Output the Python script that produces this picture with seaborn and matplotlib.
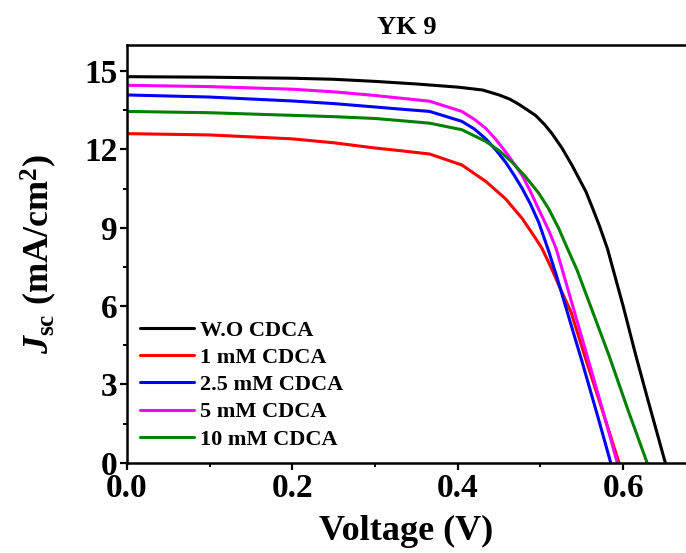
import numpy as np
import pandas as pd
import matplotlib
matplotlib.use("Agg")
import matplotlib.pyplot as plt
import seaborn as sns
from matplotlib.ticker import MultipleLocator

# ---- data ----
labels = ["W.O CDCA", "1 mM CDCA", "2.5 mM CDCA", "5 mM CDCA", "10 mM CDCA"]
colors = ["#000000", "#ff0000", "#0000ff", "#ff00ff", "#008000"]

v_wo = [0, 0.1, 0.2, 0.25, 0.3, 0.35, 0.4, 0.43, 0.45, 0.463, 0.474, 0.494, 0.505, 0.514, 0.526, 0.538, 0.555, 0.563, 0.571, 0.581, 0.6, 0.615, 0.63, 0.651]
j_wo = [14.78, 14.76, 14.72, 14.68, 14.6, 14.5, 14.38, 14.27, 14.08, 13.92, 13.72, 13.3, 12.95, 12.6, 12.05, 11.4, 10.38, 9.75, 9.1, 8.2, 6.0, 4.15, 2.4, 0]

v_1 = [0, 0.1, 0.2, 0.25, 0.3, 0.33, 0.366, 0.405, 0.434, 0.458, 0.478, 0.494, 0.502, 0.514, 0.525, 0.537, 0.555, 0.575, 0.595]
j_1 = [12.6, 12.55, 12.4, 12.25, 12.05, 11.95, 11.82, 11.4, 10.77, 10.1, 9.35, 8.6, 8.2, 7.4, 6.6, 5.77, 3.95, 2.0, 0]

v_25 = [0, 0.1, 0.2, 0.25, 0.3, 0.33, 0.366, 0.405, 0.42, 0.434, 0.446, 0.458, 0.468, 0.478, 0.488, 0.498, 0.51, 0.52, 0.535, 0.551, 0.57, 0.585]
j_25 = [14.08, 14.0, 13.85, 13.75, 13.62, 13.54, 13.45, 13.07, 12.78, 12.4, 11.98, 11.5, 11.02, 10.5, 9.9, 9.2, 8.1, 7.1, 5.5, 3.8, 1.7, 0]

v_5 = [0, 0.1, 0.2, 0.25, 0.3, 0.33, 0.366, 0.405, 0.42, 0.434, 0.446, 0.458, 0.468, 0.478, 0.488, 0.498, 0.51, 0.519, 0.535, 0.555, 0.575, 0.593]
j_5 = [14.45, 14.4, 14.3, 14.2, 14.06, 13.96, 13.84, 13.45, 13.15, 12.8, 12.38, 11.9, 11.45, 11.0, 10.38, 9.7, 8.9, 8.2, 6.45, 4.25, 2.05, 0]

v_10 = [0, 0.1, 0.2, 0.25, 0.3, 0.33, 0.366, 0.405, 0.434, 0.45, 0.466, 0.482, 0.498, 0.51, 0.522, 0.532, 0.544, 0.56, 0.583, 0.605, 0.629]
j_10 = [13.45, 13.4, 13.3, 13.25, 13.18, 13.1, 13.0, 12.75, 12.3, 11.95, 11.5, 10.95, 10.32, 9.72, 8.98, 8.25, 7.4, 6.05, 4.1, 2.1, 0]

x_ticks = [0.0, 0.2, 0.4, 0.6]
y_ticks = [0, 3, 6, 9, 12, 15]

series_v = [v_wo, v_1, v_25, v_5, v_10]
series_j = [j_wo, j_1, j_25, j_5, j_10]

frames = []
for lab, v, j in zip(labels, series_v, series_j):
    frames.append(pd.DataFrame({"V": v, "J": j, "sample": lab}))
df = pd.concat(frames, ignore_index=True)

# ---- style ----
sns.set_theme(style="ticks")
plt.rcParams["font.family"] = ["Liberation Serif", "DejaVu Serif"]
plt.rcParams["font.weight"] = "bold"
plt.rcParams["text.color"] = "black"
plt.rcParams["axes.labelcolor"] = "black"
plt.rcParams["xtick.color"] = "black"
plt.rcParams["ytick.color"] = "black"
plt.rcParams["mathtext.fontset"] = "custom"
plt.rcParams["mathtext.rm"] = "Liberation Serif:bold"
plt.rcParams["mathtext.bf"] = "Liberation Serif:bold"
plt.rcParams["mathtext.it"] = "Liberation Serif:italic:bold"

fig = plt.figure(figsize=(6.86, 5.53), dpi=100)
ax = fig.add_axes([0.185, 0.163, 0.815, 0.756])

sns.lineplot(data=df, x="V", y="J", hue="sample", hue_order=labels,
             palette=dict(zip(labels, colors)), sort=False, estimator=None,
             linewidth=2.2, ax=ax, legend=True)

ax.set_xlim(0, 0.676)
ax.set_ylim(0, 16)
ax.set_xticks(x_ticks)
ax.set_yticks(y_ticks)
ax.set_xticklabels([f"{t:.1f}" for t in x_ticks])
ax.set_yticklabels([str(t) for t in y_ticks])
ax.xaxis.set_minor_locator(MultipleLocator(0.1))
ax.yaxis.set_minor_locator(MultipleLocator(1.5))

for s in ["left", "bottom", "top"]:
    ax.spines[s].set_linewidth(1.8)
    ax.spines[s].set_color("black")
ax.spines["right"].set_visible(False)

ax.tick_params(axis="both", which="major", direction="out", length=5, width=1.6,
               labelsize=24, colors="black", pad=2)
ax.tick_params(axis="both", which="minor", direction="out", length=3, width=1.4, colors="black")
for lab in ax.get_xticklabels() + ax.get_yticklabels():
    lab.set_fontweight("bold")
    lab.set_color("black")

ax.set_xlabel("Voltage (V)", fontsize=26, fontweight="bold", labelpad=8, color="black")
ax.set_ylabel(r"$J_{\rm sc}$ (mA/cm$^{\rm 2}$)", fontsize=26, fontweight="bold",
              labelpad=18, color="black")
ax.set_title("YK 9", fontsize=19, fontweight="bold", pad=8, color="black")

leg = ax.legend(loc="lower left", bbox_to_anchor=(0.0, 0.0), frameon=False,
                fontsize=16, handlelength=2.4, handletextpad=0.3, labelspacing=0.3,
                borderaxespad=0.2, title=None)
for t in leg.get_texts():
    t.set_fontweight("bold")
    t.set_color("black")
for h in leg.get_lines():
    h.set_linewidth(2.2)

fig.savefig("out.png", dpi=100)
